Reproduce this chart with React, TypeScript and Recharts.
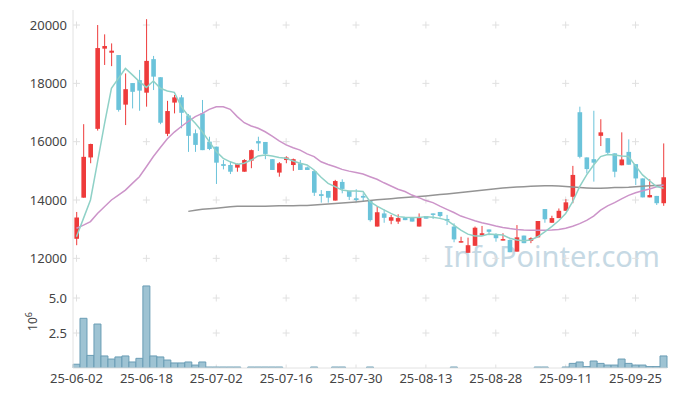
import React from 'react';
import { ComposedChart, BarChart, Bar, Line, XAxis, YAxis, CartesianGrid, ReferenceArea, Label } from 'recharts';

const dates = [
  '25-06-02','25-06-04','25-06-05','25-06-09','25-06-10','25-06-11','25-06-12','25-06-13','25-06-16','25-06-17',
  '25-06-18','25-06-19','25-06-20','25-06-23','25-06-24','25-06-25','25-06-26','25-06-27','25-06-30','25-07-01',
  '25-07-02','25-07-03','25-07-04','25-07-07','25-07-08','25-07-09','25-07-10','25-07-11','25-07-14','25-07-15',
  '25-07-16','25-07-17','25-07-18','25-07-21','25-07-22','25-07-23','25-07-24','25-07-25','25-07-28','25-07-29',
  '25-07-30','25-07-31','25-08-01','25-08-04','25-08-05','25-08-06','25-08-07','25-08-08','25-08-11','25-08-12',
  '25-08-13','25-08-14','25-08-18','25-08-19','25-08-20','25-08-21','25-08-22','25-08-25','25-08-26','25-08-27',
  '25-08-28','25-08-29','25-09-01','25-09-02','25-09-03','25-09-04','25-09-05','25-09-08','25-09-09','25-09-10',
  '25-09-11','25-09-12','25-09-15','25-09-16','25-09-17','25-09-18','25-09-19','25-09-22','25-09-23','25-09-24',
  '25-09-25','25-09-26','25-09-29','25-09-30','25-10-01'
];

const opens = [
  12670,14080,15460,16440,19190,19050,18970,17270,18010,18110,
  17680,18830,18210,16270,17340,17520,16900,16290,16970,16000,
  15830,15230,15200,15110,14970,15350,16020,15990,15400,14940,
  15370,15200,15260,15120,14990,14200,14310,13980,14620,14310,
  14060,14140,13980,13090,13540,13290,13260,13410,13410,13090,
  13450,13540,13590,13350,13090,12560,12190,12430,12790,12990,
  12820,12610,12630,12230,12780,12600,12720,13690,13220,13380,
  13630,14110,17010,15460,15400,16200,16120,15600,15190,15650,
  15230,14740,14090,14140,13890
];
const highs = [
  13590,16600,15930,20000,19680,19370,18970,18340,18010,18460,
  20200,18940,18210,17400,17600,17600,16950,16420,17430,16170,
  15830,15370,15320,15250,15400,15730,16170,15990,15400,15300,
  15500,15420,15370,15150,15030,14340,14310,14690,14710,14310,
  14370,14230,13980,13790,13680,13490,13510,13410,13410,13540,
  13450,13540,13590,13490,13200,12740,12710,13090,13110,12990,
  12860,12860,12650,13140,12780,12720,13280,13690,13460,13710,
  14030,15170,17200,15460,17060,16770,16120,15600,16320,16080,
  15230,14740,14710,14140,15940
];
const lows = [
  12450,14080,15260,16380,18630,18590,17030,16570,17140,17060,
  17200,17770,16600,16190,16970,16460,15650,15650,15710,15710,
  14550,15050,14890,14970,14970,15090,15680,15400,15030,14800,
  15260,15000,15030,15030,14140,13910,13910,13980,14230,14000,
  13940,13940,13260,13090,13220,13170,13180,13310,13260,13090,
  13360,13350,13400,13140,12550,12540,12190,12430,12790,12790,
  12570,12610,12210,12230,12520,12520,12720,13220,13220,13380,
  13630,13890,15430,14910,14630,15850,15540,14780,15190,15210,
  14510,14090,14090,13830,13800
];
const closes = [
  13400,15480,15920,19210,19280,19120,17090,17800,17710,17750,
  18770,18230,16650,17050,17520,16990,16200,15890,15710,15750,
  15280,15170,14970,15230,15370,15710,15940,15580,15030,15260,
  15460,15400,15030,15030,14250,14140,14080,14650,14380,14110,
  14000,14080,13310,13580,13390,13410,13380,13310,13260,13410,
  13360,13490,13450,13290,12650,12590,12450,13050,12860,12910,
  12690,12660,12210,12720,12520,12690,13280,13340,13380,13630,
  13920,14860,15480,15060,15280,16320,15620,14970,15390,15210,
  14740,14090,14170,13890,14780
];
const volumes = [
  270000,3550000,900000,3140000,860000,640000,790000,860000,430000,690000,
  5860000,860000,790000,570000,360000,360000,430000,210000,430000,70000,
  70000,70000,70000,70000,0,70000,70000,70000,70000,70000,
  0,0,0,0,70000,0,0,70000,70000,0,
  0,0,70000,0,0,0,0,0,0,0,
  0,0,0,0,70000,0,0,0,0,0,
  0,0,0,0,0,0,70000,70000,0,0,
  70000,330000,430000,100000,500000,330000,210000,210000,640000,330000,
  210000,210000,100000,100000,860000
];
const ma5 = [
  12740,13370,14000,15290,16600,17830,18170,18510,18290,18060,
  17860,18080,17830,17740,17690,17200,16880,16630,16340,16000,
  15660,15430,15310,15230,15260,15370,15510,15540,15510,15460,
  15430,15340,15260,15200,15030,14780,14570,14460,14340,14310,
  14310,14290,13940,13790,13660,13540,13430,13410,13400,13400,
  13430,13410,13370,13310,13140,12970,12830,12770,12770,12830,
  12820,12800,12690,12630,12600,12630,12740,12910,13090,13290,
  13540,13940,14460,14860,15200,15490,15560,15540,15510,15490,
  15170,14860,14660,14460,14400
];
const ma20 = [
  13030,13140,13260,13540,13770,14000,14170,14340,14570,14800,
  15140,15490,15800,16100,16330,16520,16700,16860,16970,17110,
  17200,17200,17110,16860,16650,16540,16460,16340,16190,16030,
  15890,15790,15710,15580,15490,15310,15220,15140,15050,14990,
  14940,14890,14800,14710,14590,14480,14370,14290,14170,14080,
  13980,13910,13790,13680,13570,13450,13370,13290,13220,13170,
  13110,13060,13020,12990,12970,12965,12960,12960,12970,12990,
  13030,13100,13190,13300,13450,13650,13800,13910,14040,14160,
  14250,14320,14380,14450,14510
];
const ma60 = [
  null,null,null,null,null,null,null,null,null,null,
  null,null,null,null,null,null,13610,13650,13680,13700,
  13720,13745,13770,13790,13790,13790,13790,13790,13795,13800,
  13800,13805,13810,13815,13830,13850,13865,13880,13895,13915,
  13935,13955,13980,14005,14025,14045,14065,14085,14100,14120,
  14140,14160,14185,14210,14235,14260,14285,14310,14335,14360,
  14385,14410,14430,14445,14457,14470,14480,14488,14491,14480,
  14465,14445,14425,14410,14400,14405,14415,14425,14432,14440,
  14455,14470,14485,14500,14514
];
const priceTicks = [12000, 14000, 16000, 18000, 20000];
const volumeTicks = [2500000, 5000000];

const rows = dates.map((d, i) => ({
  date: d,
  range: [lows[i], highs[i]],
  open: opens[i], high: highs[i], low: lows[i], close: closes[i],
  ma5: ma5[i], ma20: ma20[i], ma60: ma60[i], vol: volumes[i],
}));

const RED = '#ee3b3b';
const BLUE = '#6bc3da';
const GRID = '#e0e0e0';
const BORDER = '#e2e2e2';
const FONT = "'Noto Sans', sans-serif";
const tickStyle = { fontSize: 13, fill: '#444', fontFamily: FONT };

const Candle = (props: any) => {
  const { x, y, width, height, payload } = props;
  if (!payload) return null;
  const { open, close, high, low } = payload;
  const up = close >= open;
  const color = up ? RED : BLUE;
  const ratio = high !== low ? height / (high - low) : 0;
  const cx = x + width / 2;
  const top = y + (high - Math.max(open, close)) * ratio;
  const bot = y + (high - Math.min(open, close)) * ratio;
  const bw = 4.6;
  return (
    <g>
      <line x1={cx} x2={cx} y1={y} y2={y + height} stroke={color} strokeWidth={1} />
      <rect x={cx - bw / 2} y={top} width={bw} height={Math.max(1.5, bot - top)} fill={color} />
    </g>
  );
};

const hLine = (period: number) => (p: any) => (
  <line key={p.key} x1={p.x1} y1={p.y1} x2={p.x2} y2={p.y2} stroke={GRID} strokeWidth={1}
    strokeDasharray={`7 ${period - 7}`} />
);
const vLine = (period: number, offset: number) => (p: any) => (
  <line key={p.key} x1={p.x1} y1={p.y1} x2={p.x2} y2={p.y2} stroke={GRID} strokeWidth={1}
    strokeDasharray={`7 ${period - 7}`} strokeDashoffset={offset} />
);

const NoTick = () => <g />;

const VolLabel = (props: any) => {
  const vb = props.viewBox || { x: 13, y: 277, width: 60, height: 91 };
  const cx = vb.x + 24;
  const cy = vb.y + vb.height / 2 - 1;
  return (
    <text transform={`translate(${cx},${cy}) rotate(-90)`} textAnchor="middle" fontSize={12}
      fill="#444" fontFamily={FONT}>
      10<tspan dy={-5} fontSize={9}>6</tspan>
    </text>
  );
};

export default function App() {
  return (
    <div style={{ position: 'absolute', left: 0, top: 0, width: 677, height: 396, overflow: 'hidden', background: '#fff' }}>
      <svg width={677} height={396} style={{ position: 'absolute', left: 0, top: 0 }}>
        <text x={660} y={267} textAnchor="end" fontSize={29} fill="#c6d9e4" fontFamily={FONT}>InfoPointer.com</text>
      </svg>
      <div style={{ position: 'absolute', left: 0, top: 0 }}>
        <ComposedChart width={677} height={277} data={rows} margin={{ top: 10, right: 10, bottom: 0, left: 13 }}>
          <CartesianGrid syncWithTicks horizontal={hLine(69.88)} vertical={vLine(58.33, 46.83)} />
          <XAxis dataKey="date" interval={9} height={0} tick={NoTick} tickLine={false} axisLine={false} />
          <YAxis domain={[11360, 20515]} ticks={priceTicks} allowDataOverflow width={60}
            tickLine={false} tickSize={4} tickMargin={2} axisLine={{ stroke: BORDER }} tick={tickStyle} />
          <ReferenceArea fill="none" stroke={BORDER} strokeWidth={1} />
          <Bar dataKey="range" shape={Candle} isAnimationActive={false} />
          <Line dataKey="ma60" stroke="#949494" strokeWidth={1.5} dot={false} isAnimationActive={false} />
          <Line dataKey="ma20" stroke="#cc94c9" strokeWidth={1.5} dot={false} isAnimationActive={false} />
          <Line dataKey="ma5" stroke="#8fd1c7" strokeWidth={1.5} dot={false} isAnimationActive={false} />
        </ComposedChart>
      </div>
      <div style={{ position: 'absolute', left: 0, top: 277 }}>
        <BarChart width={677} height={119} data={rows} barCategoryGap={0} margin={{ top: 0, right: 10, bottom: 0, left: 13 }}>
          <CartesianGrid syncWithTicks horizontal={hLine(69.88)} vertical={vLine(35, 17.5)} />
          <XAxis dataKey="date" interval={9} height={28} tickLine={false} tickSize={4} tickMargin={2}
            axisLine={{ stroke: BORDER }} tick={tickStyle} />
          <YAxis domain={[0, 6500000]} ticks={volumeTicks} allowDataOverflow width={60}
            tickFormatter={(v: number) => (v / 1000000).toFixed(1)}
            tickLine={false} tickSize={4} tickMargin={2} axisLine={{ stroke: BORDER }} tick={tickStyle}>
            <Label content={VolLabel} />
          </YAxis>
          <ReferenceArea fill="none" stroke={BORDER} strokeWidth={1} />
          <Bar dataKey="vol" fill="#9ec3d3" stroke="#6a9db5" strokeWidth={1} isAnimationActive={false} />
        </BarChart>
      </div>
    </div>
  );
}
